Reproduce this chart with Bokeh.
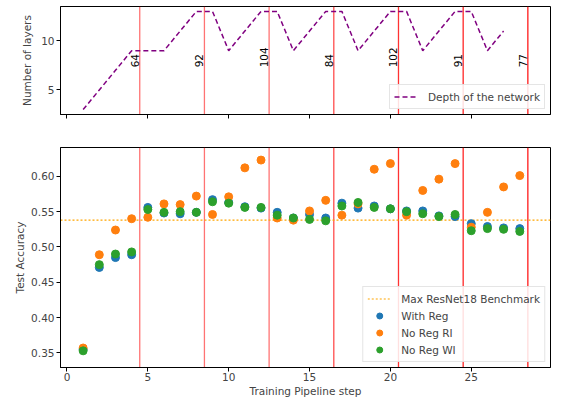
import math
from bokeh.plotting import figure
from bokeh.layouts import column
from bokeh.models import Range1d, FixedTicker, Span
from bokeh.core.properties import value
from bokeh.embed import file_html
from bokeh.resources import INLINE

# ---------------- data ----------------
depth_steps = list(range(1, 28))
depth_layers = [3, 5, 7, 9, 9, 9, 11, 13, 13, 9, 11, 13, 13, 9, 11, 13, 13, 9, 11, 13, 13, 9, 11, 13, 13, 9, 11]

boundaries = [4.5, 8.5, 12.5, 16.5, 20.5, 24.5, 28.5]
boundary_labels = ["64", "92", "104", "84", "102", "91", "77"]

steps = list(range(1, 29))
with_reg = [0.355, 0.471, 0.485, 0.489, 0.556, 0.548, 0.547, 0.549, 0.567, 0.563,
            0.557, 0.555, 0.549, 0.541, 0.546, 0.541, 0.562, 0.555, 0.558, 0.554,
            0.551, 0.551, 0.544, 0.543, 0.533, 0.529, 0.527, 0.526]
no_reg_ri = [0.357, 0.489, 0.524, 0.540, 0.542, 0.561, 0.560, 0.572, 0.546, 0.571,
             0.612, 0.623, 0.541, 0.538, 0.551, 0.566, 0.545, 0.561, 0.610, 0.618,
             0.545, 0.580, 0.596, 0.618, 0.528, 0.549, 0.585, 0.601]
no_reg_wi = [0.353, 0.475, 0.490, 0.493, 0.553, 0.549, 0.550, 0.549, 0.564, 0.562,
             0.556, 0.556, 0.545, 0.541, 0.539, 0.537, 0.558, 0.563, 0.556, 0.554,
             0.550, 0.547, 0.543, 0.546, 0.523, 0.526, 0.525, 0.522]
benchmark = 0.538

x_ticks = [0, 5, 10, 15, 20, 25]
depth_ticks = [5, 10]
acc_ticks = [0.35, 0.40, 0.45, 0.50, 0.55, 0.60]

# ---------------- styles ----------------
FONT = "DejaVu Sans"
FS = "10.5px"
boundary_alpha = [0.55, 0.55, 0.55, 0.7, 0.8, 0.85, 0.9]

xr = Range1d(-0.4, 29.9)


def style(p):
    p.xgrid.visible = False
    p.ygrid.visible = False
    p.outline_line_color = "black"
    p.outline_line_width = 1
    p.background_fill_color = "white"
    for ax in (p.xaxis, p.yaxis):
        ax.axis_line_color = "black"
        ax.major_tick_in = 0
        ax.major_tick_out = 4
        ax.minor_tick_line_color = None
        ax.major_label_text_font = FONT
        ax.major_label_text_font_size = FS
        ax.major_label_standoff = 2
        ax.axis_label_text_font = FONT
        ax.axis_label_text_font_size = FS
        ax.axis_label_text_font_style = "normal"
        ax.axis_label_standoff = 5
    p.xaxis.ticker = FixedTicker(ticks=x_ticks)
    p.xaxis.axis_label_standoff = 1
    p.xaxis.major_label_standoff = 1


def style_legend(p):
    lg = p.legend[0]
    lg.location = "bottom_right"
    lg.margin = 5
    lg.padding = 4
    lg.spacing = 2
    lg.glyph_width = 24
    lg.glyph_height = 15
    lg.label_height = 15
    lg.label_standoff = 10
    lg.label_text_font = FONT
    lg.label_text_font_size = FS
    lg.border_line_color = "#cccccc"
    lg.border_line_width = 1
    lg.background_fill_alpha = 0.85


# ---------------- top panel ----------------
p1 = figure(width=552, height=132, x_range=xr, y_range=Range1d(2.5, 13.5),
            output_backend="svg", toolbar_location=None,
            min_border_left=60, min_border_right=2, min_border_top=6, min_border_bottom=18)
style(p1)
p1.yaxis.ticker = FixedTicker(ticks=depth_ticks)
p1.xaxis.major_label_overrides = {t: "" for t in x_ticks}
p1.yaxis.axis_label = "Number of layers"

for b, a in zip(boundaries, boundary_alpha):
    p1.add_layout(Span(location=b, dimension="height", line_color="red",
                       line_alpha=a, line_width=1.3, level="underlay"))

p1.line(depth_steps, depth_layers, line_color="purple", line_width=1.5,
        line_dash="5 3", legend_label="Depth of the network")
p1.text(x=boundaries, y=[7.3] * len(boundaries), text=boundary_labels,
        angle=math.pi / 2, text_align="left", text_baseline="bottom",
        text_font=value(FONT), text_font_size=FS, text_color="black", x_offset=-1)
style_legend(p1)

# ---------------- bottom panel ----------------
p2 = figure(width=552, height=267, x_range=xr, y_range=Range1d(0.3294, 0.6408),
            output_backend="svg", toolbar_location=None,
            min_border_left=60, min_border_right=2, min_border_top=15, min_border_bottom=30)
style(p2)
p2.yaxis.ticker = FixedTicker(ticks=acc_ticks)
p2.yaxis.major_label_overrides = {t: f"{t:.2f}" for t in acc_ticks}
p2.yaxis.axis_label_standoff = 2
p2.xaxis.axis_label = "Training Pipeline step"
p2.yaxis.axis_label = "Test Accuracy"

for b, a in zip(boundaries, boundary_alpha):
    p2.add_layout(Span(location=b, dimension="height", line_color="red",
                       line_alpha=a, line_width=1.3, level="underlay"))

p2.line([xr.start, xr.end], [benchmark, benchmark], line_color="#ffa500",
        line_width=1.2, line_dash="2 2", legend_label="Max ResNet18 Benchmark")
p2.scatter(steps, with_reg, size=8, color="#1f77b4", legend_label="With Reg")
p2.scatter(steps, no_reg_ri, size=8, color="#ff7f0e", legend_label="No Reg RI")
p2.scatter(steps, no_reg_wi, size=8, color="#2ca02c", legend_label="No Reg WI")
style_legend(p2)

layout = column(p1, p2, spacing=0)
open("out.html", "w").write(file_html(layout, INLINE))
